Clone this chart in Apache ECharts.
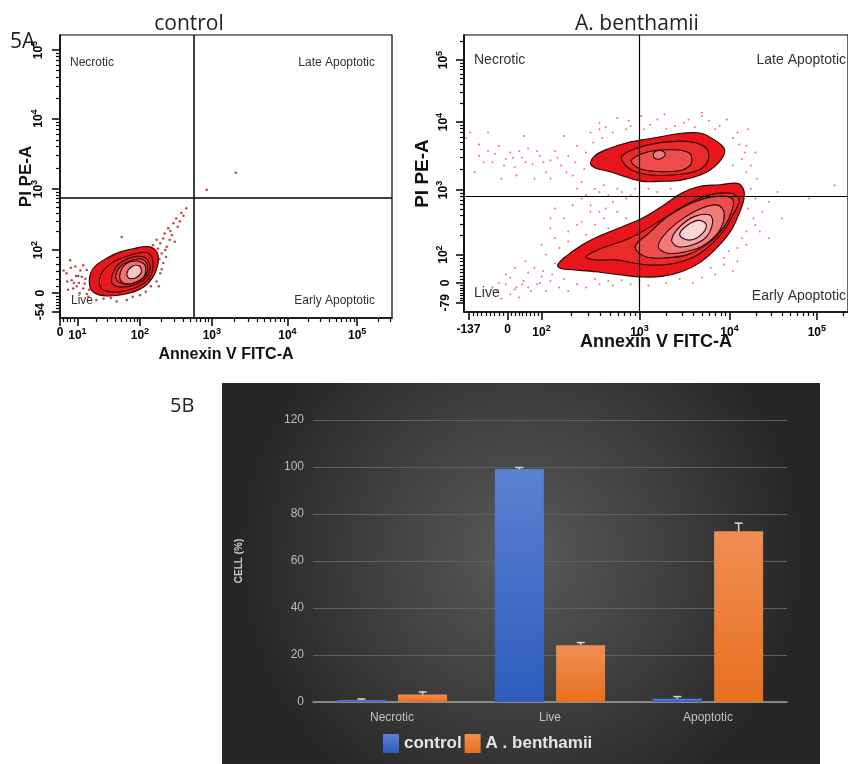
<!DOCTYPE html>
<html>
<head>
<meta charset="utf-8">
<script src="https://cdn.jsdelivr.net/npm/echarts@6/dist/echarts.min.js"></script>
<style>
  html, body { margin: 0; padding: 0; background: #fff; }
  #main { width: 848px; height: 764px; }
</style>
</head>
<body>
<div id="main"></div>
<script>
// ---------- 5B bar chart ----------
var categories = ['Necrotic', 'Live', 'Apoptotic'];
var controlValues = [0.8, 99.1, 1.4];
var controlErrors = [0.5, 0.7, 0.9];
var benthamiiValues = [3.2, 24.2, 72.7];
var benthamiiErrors = [1.1, 1.1, 3.4];

// ---------- 5A flow plots (display decades) ----------
var ctrlXTicks = [0.9, 1.14, 2.0, 2.99, 4.03, 4.99];
var ctrlXLabels = ['0', '10^1', '10^2', '10^3', '10^4', '10^5'];
var ctrlYTicks = [1.18, 1.45, 2.08, 2.97, 4.0, 5.0];
var ctrlYLabels = ['-54', '0', '10^2', '10^3', '10^4', '10^5'];
var benXTicks = [1.08, 1.52, 1.9, 3.0, 4.01, 4.99];
var benXLabels = ['-137', '0', '10^2', '10^3', '10^4', '10^5'];
var benYTicks = [1.32, 1.62, 2.05, 3.03, 4.06, 5.0];
var benYLabels = ['-79', '0', '10^2', '10^3', '10^4', '10^5'];

var ctrlGate = [2.74, 2.85];
var benGate = [3.0, 2.94];

// contour rings, outer -> inner
var ctrlRings = [
  [[1.31,1.55],[1.32,1.74],[1.40,1.86],[1.54,1.96],[1.72,2.05],[1.91,2.10],[2.11,2.13],[2.23,2.06],[2.25,1.89],[2.17,1.67],[2.02,1.52],[1.77,1.43],[1.54,1.41],[1.38,1.45]],
  [[1.45,1.55],[1.47,1.74],[1.61,1.89],[1.77,1.97],[1.95,2.03],[2.11,2.04],[2.18,1.91],[2.14,1.69],[1.98,1.55],[1.72,1.47],[1.54,1.48]],
  [[1.61,1.62],[1.66,1.81],[1.79,1.93],[1.98,1.99],[2.11,1.93],[2.13,1.76],[2.02,1.62],[1.84,1.55],[1.68,1.55]],
  [[1.67,1.66],[1.72,1.83],[1.86,1.92],[2.02,1.95],[2.10,1.87],[2.09,1.73],[1.97,1.62],[1.80,1.58]],
  [[1.72,1.69],[1.79,1.86],[1.95,1.92],[2.07,1.86],[2.06,1.70],[1.91,1.60],[1.77,1.60]],
  [[1.82,1.74],[1.89,1.84],[1.99,1.85],[2.02,1.76],[1.95,1.68],[1.85,1.67]]
];
var benUpperRings = [
  [[2.45,3.43],[2.51,3.56],[2.66,3.66],[2.84,3.74],[3.03,3.79],[3.25,3.84],[3.47,3.89],[3.69,3.89],[3.84,3.79],[3.95,3.66],[3.94,3.54],[3.84,3.38],[3.69,3.26],[3.47,3.18],[3.21,3.16],[3.03,3.16],[2.84,3.23],[2.66,3.31],[2.51,3.36]],
  [[2.80,3.54],[3.03,3.69],[3.32,3.76],[3.58,3.76],[3.75,3.66],[3.77,3.48],[3.66,3.33],[3.40,3.26],[3.10,3.26],[2.88,3.36]],
  [[2.91,3.48],[3.10,3.61],[3.36,3.64],[3.56,3.59],[3.58,3.43],[3.47,3.33],[3.21,3.31],[2.99,3.36]],
  [[3.16,3.59],[3.23,3.63],[3.29,3.58],[3.25,3.51],[3.17,3.51]]
];
var benLowerRings = [
  [[2.08,1.89],[2.17,2.02],[2.36,2.20],[2.58,2.35],[2.80,2.47],[3.03,2.60],[3.25,2.78],[3.47,2.98],[3.66,3.08],[3.91,3.11],[4.10,3.13],[4.17,3.03],[4.17,2.88],[4.12,2.68],[4.03,2.42],[3.88,2.17],[3.69,1.94],[3.47,1.79],[3.25,1.72],[3.03,1.71],[2.80,1.74],[2.51,1.79],[2.25,1.82],[2.12,1.84]],
  [[2.40,2.02],[2.58,2.15],[2.84,2.27],[3.03,2.40],[3.25,2.58],[3.51,2.80],[3.77,2.95],[4.03,2.98],[4.12,2.88],[4.06,2.68],[3.95,2.42],[3.80,2.20],[3.62,2.02],[3.40,1.92],[3.17,1.89],[2.95,1.92],[2.73,1.97],[2.51,1.97]],
  [[2.95,2.17],[3.10,2.37],[3.32,2.63],[3.58,2.83],[3.84,2.93],[4.04,2.90],[4.04,2.73],[3.95,2.47],[3.77,2.22],[3.54,2.05],[3.29,2.00],[3.06,2.02]],
  [[3.21,2.17],[3.29,2.37],[3.47,2.58],[3.69,2.75],[3.88,2.80],[3.95,2.68],[3.90,2.42],[3.73,2.20],[3.54,2.10],[3.32,2.07]],
  [[3.36,2.27],[3.45,2.47],[3.62,2.63],[3.79,2.65],[3.82,2.53],[3.75,2.32],[3.60,2.20],[3.43,2.17]],
  [[3.45,2.35],[3.54,2.50],[3.67,2.57],[3.75,2.50],[3.69,2.35],[3.56,2.27]]
];

// single events outside the contours
var ctrlDots = [
  [2.64,2.69],[2.57,2.62],[2.50,2.54],[2.46,2.47],[2.39,2.40],[2.34,2.32],[2.32,2.25],[2.28,2.18],[2.37,2.13],[2.41,2.23],
  [2.23,2.23],[2.18,2.15],[2.30,2.03],[2.32,1.89],[2.28,1.74],[2.23,1.62],[1.75,2.27],[0.99,1.74],[1.06,1.64],[1.13,1.55],
  [1.01,1.50],[1.20,1.69],[1.17,1.45],[1.24,1.59],[1.27,1.79],[1.11,1.84],[1.22,1.86],[1.04,1.93],[1.29,1.40],[1.40,1.35],
  [1.68,1.33],[1.82,1.35],[2.00,1.42],[2.92,2.96],[3.32,3.21],[2.27,1.95],[2.35,2.08],[2.44,2.30],[1.15,1.70],[1.09,1.60],
  [0.95,1.78],[1.00,1.62],[1.05,1.82],[1.08,1.52],[1.12,1.70],[1.18,1.78],[1.22,1.52],[1.25,1.66],[1.30,1.50],[1.33,1.62],
  [1.16,1.60],[1.27,1.44],[1.50,1.37],[1.60,1.38],[1.90,1.40],[2.08,1.47],[2.15,1.55],[2.20,2.00],[2.25,2.10],[2.42,2.36],
  [2.52,2.42],[2.55,2.50],[2.60,2.58],[2.48,2.20],[2.36,1.98],[2.30,1.80],[2.26,1.55]
];
var benDots = [
  [1.20,3.55],[1.30,3.62],[1.35,3.45],[1.42,3.70],[1.50,3.50],[1.55,3.60],[1.60,3.38],[1.68,3.52],[1.75,3.66],[1.80,3.42],
  [1.88,3.55],[1.95,3.30],[2.00,3.48],[2.05,3.62],[2.12,3.40],[2.20,3.55],[2.25,3.25],[2.30,3.70],[2.35,3.15],[2.40,3.60],
  [1.10,3.90],[1.15,3.30],[1.45,3.20],[1.70,3.85],[2.15,3.85],[2.45,3.90],[2.55,3.95],[2.70,3.90],[2.90,4.00],[3.50,4.05],
  [3.90,4.00],[4.10,3.90],[4.20,3.70],[4.15,3.50],[4.05,3.40],[2.60,3.10],[2.75,3.05],[2.95,3.05],[2.55,3.00],[2.70,2.85],
  [2.45,2.70],[2.60,2.60],[2.30,2.50],[2.20,2.40],[2.05,2.30],[1.90,2.20],[2.00,2.60],[2.35,2.90],[1.40,1.50],[1.50,1.60],
  [1.55,1.45],[1.62,1.55],[1.70,1.65],[1.78,1.50],[1.85,1.60],[1.90,1.72],[1.95,1.50],[2.00,1.65],[1.45,1.38],[1.65,1.40],
  [2.10,1.55],[2.20,1.50],[2.30,1.60],[2.40,1.55],[2.55,1.60],[2.70,1.58],[2.90,1.60],[3.10,1.58],[3.30,1.62],[1.75,1.78],
  [4.20,3.30],[4.25,3.05],[4.30,2.90],[4.28,2.60],[4.35,2.40],[4.45,2.30],[4.55,3.00],[4.20,2.20],[4.00,2.10],[3.95,1.90],
  [3.80,1.85],[4.10,1.95],[4.90,2.90],[5.19,3.10],[2.85,3.95],[3.20,4.10],[3.70,4.15],[2.62,2.75],[2.85,2.90],[2.15,2.00],
  [2.55,4.05],[2.62,3.98],[2.75,4.12],[2.88,4.08],[3.02,4.15],[3.12,4.02],[3.28,4.18],[3.40,4.00],[3.55,4.10],[3.62,3.98],
  [3.78,4.08],[3.85,3.95],[3.98,4.10],[4.05,3.82],[4.12,3.72],[4.22,3.95],[4.30,3.60],[2.48,3.75],[2.58,3.82],[3.05,3.95],
  [3.30,3.95],[3.70,4.20],[2.30,3.05],[2.40,2.95],[2.50,3.05],[2.65,2.95],[2.80,3.00],[2.90,2.95],[3.10,3.05],[3.20,3.00],
  [3.35,3.05],[2.45,2.80],[2.55,2.70],[2.75,2.70],[2.85,2.60],[2.50,2.50],[2.65,2.45],[2.40,2.35],[2.20,2.25],[2.35,2.55],
  [2.15,2.60],[2.00,2.45],[2.10,2.15],[1.95,2.05],[2.05,2.75],[2.25,2.80],[4.18,3.60],[4.25,3.40],[4.32,3.20],[4.22,2.75],
  [4.30,2.50],[4.20,2.40],[4.38,2.70],[4.15,2.30],[4.10,2.15],[3.95,2.00],[4.05,1.80],[3.85,1.75],[3.70,1.70],[3.60,1.62],
  [4.60,2.60],[4.45,2.85],[1.55,1.70],[1.60,1.85],[1.68,1.60],[1.72,1.95],[1.82,1.85],[1.88,1.62],[1.92,1.80],[2.02,1.75],
  [2.05,1.92],[1.60,1.52],[1.75,1.55],[1.50,1.75],[1.42,1.62],[1.35,1.55],[2.15,1.68],[2.50,1.68],[2.65,1.65],[2.80,1.66],
  [3.00,1.65],[3.45,1.68],[1.25,3.45],[1.38,3.58],[1.48,3.40],[1.58,3.52],[1.65,3.62],[1.72,3.45],[1.85,3.62],[1.92,3.45],
  [2.08,3.52],[2.18,3.30],[2.28,3.45],[2.38,3.35],[1.62,3.25],[1.82,3.20],[2.00,3.20],[1.05,3.82],[1.20,3.72],[1.30,3.90]
];

var ctrlFills = ['#e8161a', '#e51b1d', '#e72e2e', '#ea4a4a', '#ee7272', '#f6c6c6'];
var benFills = ['#e8161a', '#e92b2b', '#ed4d4d', '#f17b7b', '#f5a8a8', '#fbd6d6'];
var FONT = 'Liberation Sans, Arial, sans-serif';

function minorTicks(major, labels, sub) {
  var out = [];
  for (var i = 0; i < major.length; i++) {
    var a = major[i];
    var b = i + 1 < major.length ? major[i + 1] : a + (major[i] - major[i - 1]);
    if (labels[i].indexOf('^') >= 0) {
      for (var m = 2; m < 10; m++) out.push(a + (b - a) * Math.log10(m));
    } else {
      for (var k = 1; k < sub; k++) out.push(a + (b - a) * k / sub);
    }
  }
  return out;
}

function labelFmt(ticks, labels) {
  return function (v) {
    var best = 0;
    for (var i = 1; i < ticks.length; i++) {
      if (Math.abs(ticks[i] - v) < Math.abs(ticks[best] - v)) best = i;
    }
    return labels[best].replace(/\^(\d)/, '{s|$1}');
  };
}

var supRich = { s: { fontSize: 9, fontWeight: 'bold', fontFamily: FONT, color: '#000', padding: [0, 0, 8, 0] } };

function flowAxes(dim, grid, min, max, ticks, labels, sub, name, nameGap, nameSize, margin) {
  var isY = dim === 'y';
  var major = {
    gridIndex: grid, type: 'value', min: min, max: max,
    position: isY ? 'left' : 'bottom',
    axisLine: { show: true, onZero: false, lineStyle: { color: '#000', width: 1.5 } },
    axisTick: { show: true, customValues: ticks, length: 8, lineStyle: { color: '#000', width: 1.5 } },
    axisLabel: {
      customValues: ticks, formatter: labelFmt(ticks, labels), rotate: isY ? 90 : 0,
      margin: margin, color: '#000', fontWeight: 'bold', fontSize: 12, fontFamily: FONT, rich: supRich
    },
    splitLine: { show: false },
    name: name, nameLocation: 'middle', nameGap: nameGap, nameMoveOverlap: false,
    nameTextStyle: { color: '#111', fontWeight: 'bold', fontSize: nameSize, fontFamily: FONT }
  };
  var minor = {
    gridIndex: grid, type: 'value', min: min, max: max,
    position: isY ? 'left' : 'bottom',
    axisLine: { show: false, onZero: false },
    axisTick: { show: true, customValues: minorTicks(ticks, labels, sub), length: 4, lineStyle: { color: '#000', width: 1.2 } },
    axisLabel: { show: false },
    splitLine: { show: false }
  };
  return [major, minor];
}

function contourSeries(rings, fills, xi, yi) {
  return {
    type: 'custom', xAxisIndex: xi, yAxisIndex: yi, z: 3, clip: true, silent: true,
    data: rings.map(function (r) { return r[0]; }),
    renderItem: function (params, api) {
      var ring = rings[params.dataIndex];
      return {
        type: 'polygon', z2: params.dataIndex,
        shape: { points: ring.map(function (p) { return api.coord(p); }), smooth: 0.35 },
        style: { fill: fills[params.dataIndex], stroke: '#2a0404', lineWidth: 1.1 }
      };
    }
  };
}

function gateLines(gate, w) {
  return {
    silent: true, symbol: 'none', label: { show: false }, animation: false,
    lineStyle: { color: '#000', width: w, type: 'solid' },
    data: [{ xAxis: gate[0] }, { yAxis: gate[1] }]
  };
}

var xAxes = []
  .concat(flowAxes('x', 0, 0.9, 5.47, ctrlXTicks, ctrlXLabels, 5, 'Annexin V FITC-A', 29, 16, 9))
  .concat(flowAxes('x', 1, 1.03, 5.34, benXTicks, benXLabels, 9, 'Annexin V FITC-A', 21, 18, 12));
xAxes.push({
  gridIndex: 2, type: 'category', data: categories,
  axisLine: { lineStyle: { color: '#9c9c9c', width: 1.5 } },
  axisTick: { show: false },
  axisLabel: { color: '#c2c2c2', fontSize: 12, fontFamily: FONT, margin: 10 }
});
var yAxes = []
  .concat(flowAxes('y', 0, 1.088, 5.22, ctrlYTicks, ctrlYLabels, 6, 'PI PE-A', 25, 17, 13))
  .concat(flowAxes('y', 1, 1.18, 5.38, benYTicks, benYLabels, 8, 'PI PE-A', 32, 19, 12));
yAxes.push({
  gridIndex: 2, type: 'value', min: 0, max: 120, interval: 20,
  axisLine: { show: false }, axisTick: { show: false },
  axisLabel: { color: '#bdbdbd', fontSize: 12, fontFamily: FONT, margin: 9 },
  splitLine: { lineStyle: { color: '#606060', width: 1 } },
  name: 'CELL (%)', nameLocation: 'middle', nameGap: 69,
  nameTextStyle: { color: '#d2d2d2', fontSize: 10, fontWeight: 'bold', fontFamily: FONT }
});

var errData = [];
for (var i = 0; i < categories.length; i++) {
  errData.push([i, controlValues[i], controlErrors[i], -1]);
  errData.push([i, benthamiiValues[i], benthamiiErrors[i], 1]);
}

var quadText = [
  { x: 70, y: 63, t: 'Necrotic', a: 'left', s: 12 },
  { x: 375, y: 63, t: 'Late Apoptotic', a: 'right', s: 12 },
  { x: 71, y: 301, t: 'Live', a: 'left', s: 12 },
  { x: 375, y: 301, t: 'Early Apoptotic', a: 'right', s: 12 },
  { x: 474, y: 60, t: 'Necrotic', a: 'left', s: 14 },
  { x: 846, y: 60, t: 'Late Apoptotic', a: 'right', s: 14 },
  { x: 474, y: 293, t: 'Live', a: 'left', s: 14 },
  { x: 846, y: 296, t: 'Early Apoptotic', a: 'right', s: 14 }
];
var headText = [
  { x: 10, y: 42, t: '5A', a: 'left', s: 21 },
  { x: 189, y: 24, t: 'control', a: 'center', s: 21 },
  { x: 637, y: 24, t: 'A. benthamii', a: 'center', s: 21 },
  { x: 170, y: 406, t: '5B', a: 'left', s: 20 }
];

var graphics = [{
  type: 'rect', x: 222, y: 383, z: -10, silent: true,
  shape: { width: 598, height: 381 },
  style: {
    fill: new echarts.graphic.RadialGradient(0.5, 0.45, 0.75, [
      { offset: 0, color: '#5a5a5a' }, { offset: 1, color: '#262626' }
    ])
  }
}];
quadText.forEach(function (q) {
  graphics.push({ type: 'text', x: q.x, y: q.y, silent: true,
    style: { text: q.t, fill: '#333', font: q.s + 'px ' + FONT, align: q.a, textAlign: q.a, verticalAlign: 'middle', textVerticalAlign: 'middle' } });
});
headText.forEach(function (q) {
  graphics.push({ type: 'text', x: q.x, y: q.y, silent: true,
    style: { text: q.t, fill: '#222', font: q.s + 'px "Open Sans", ' + FONT, align: q.a, textAlign: q.a, verticalAlign: 'middle', textVerticalAlign: 'middle' } });
});

var chart = echarts.init(document.getElementById('main'), null, { renderer: 'canvas' });
chart.setOption({
  animation: false,
  backgroundColor: '#fff',
  graphic: graphics,
  grid: [
    { left: 60, top: 35, width: 332, height: 283, show: true, borderColor: '#000', borderWidth: 1.2, backgroundColor: '#fff' },
    { left: 464, top: 35, width: 388, height: 277, show: true, borderColor: '#000', borderWidth: 1.2, backgroundColor: '#fff' },
    { left: 313, top: 420, width: 474, height: 282 }
  ],
  legend: {
    data: ['control', 'A . benthamii'], left: 383, top: 734, padding: 0, itemGap: 3,
    itemWidth: 16, itemHeight: 19, icon: 'rect',
    textStyle: { color: '#e6e6e6', fontSize: 17, fontWeight: 'bold', fontFamily: FONT }
  },
  xAxis: xAxes,
  yAxis: yAxes,
  series: [
    { type: 'scatter', xAxisIndex: 0, yAxisIndex: 0, data: ctrlDots, symbolSize: 2.5, z: 2, silent: true,
      itemStyle: { color: '#b01515' }, markLine: gateLines(ctrlGate, 1.5) },
    contourSeries(ctrlRings, ctrlFills, 0, 0),
    { type: 'scatter', xAxisIndex: 2, yAxisIndex: 2, data: benDots, symbolSize: 2, z: 2, silent: true,
      itemStyle: { color: '#f04c4c' }, markLine: gateLines(benGate, 1.2) },
    contourSeries(benUpperRings, benFills, 2, 2),
    contourSeries(benLowerRings, benFills, 2, 2),
    { name: 'control', type: 'bar', xAxisIndex: 4, yAxisIndex: 4, data: controlValues,
      barWidth: '31%', barGap: '25%',
      itemStyle: { color: new echarts.graphic.LinearGradient(0, 0, 0, 1, [
        { offset: 0, color: '#5b81d1' }, { offset: 1, color: '#2d5cbe' }]) } },
    { name: 'A . benthamii', type: 'bar', xAxisIndex: 4, yAxisIndex: 4, data: benthamiiValues,
      barWidth: '31%', barGap: '25%',
      itemStyle: { color: new echarts.graphic.LinearGradient(0, 0, 0, 1, [
        { offset: 0, color: '#f18e55' }, { offset: 1, color: '#e8701f' }]) } },
    { type: 'custom', xAxisIndex: 4, yAxisIndex: 4, z: 4, silent: true, data: errData,
      renderItem: function (params, api) {
        var band = api.size([1, 0])[0];
        var off = api.value(3) * band * 0.194;
        var base = api.coord([api.value(0), api.value(1)]);
        var top = api.coord([api.value(0), api.value(1) + api.value(2)]);
        var x = base[0] + off;
        var st = { stroke: '#d8d8d8', lineWidth: 1.5 };
        return { type: 'group', children: [
          { type: 'line', shape: { x1: x, y1: base[1], x2: x, y2: top[1] }, style: st },
          { type: 'line', shape: { x1: x - 4, y1: top[1], x2: x + 4, y2: top[1] }, style: st }
        ] };
      } }
  ]
});
</script>
</body>
</html>
